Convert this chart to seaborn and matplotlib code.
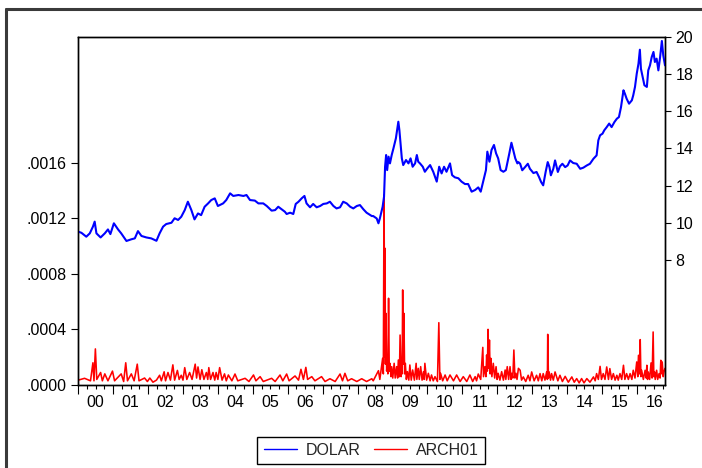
import matplotlib
matplotlib.use("Agg")
import matplotlib.pyplot as plt
import seaborn as sns
import pandas as pd
from matplotlib.lines import Line2D

# DOLAR exchange rate (right axis): time in decimal years, level
dolar_t = [
    2000.00, 2000.09, 2000.23, 2000.33, 2000.42, 2000.47, 2000.52, 2000.64, 2000.76, 2000.85, 2000.92,
    2001.02, 2001.14, 2001.23, 2001.38, 2001.52, 2001.62, 2001.71, 2001.81, 2001.95,
    2002.09, 2002.24, 2002.33, 2002.43, 2002.52, 2002.67, 2002.76, 2002.86, 2002.95,
    2003.05, 2003.14, 2003.24, 2003.33, 2003.43, 2003.52, 2003.62, 2003.72, 2003.81, 2003.91,
    2004.00, 2004.15, 2004.24, 2004.35, 2004.44, 2004.59, 2004.73, 2004.82, 2004.92,
    2005.06, 2005.16, 2005.30, 2005.40, 2005.54, 2005.64, 2005.73, 2005.83, 2005.92, 2005.97,
    2006.07, 2006.16, 2006.23, 2006.31, 2006.40, 2006.48, 2006.54, 2006.64, 2006.73, 2006.83, 2006.93,
    2007.02, 2007.12, 2007.21, 2007.31, 2007.40, 2007.50, 2007.59, 2007.69, 2007.79, 2007.88, 2007.98,
    2008.07, 2008.17, 2008.26, 2008.41, 2008.45, 2008.55, 2008.60, 2008.64, 2008.72, 2008.76, 2008.79, 2008.82, 2008.85, 2008.89, 2008.93, 2008.98,
    2009.03, 2009.10, 2009.17, 2009.20, 2009.24, 2009.27, 2009.31, 2009.39, 2009.46, 2009.52, 2009.58, 2009.65, 2009.70, 2009.74, 2009.79, 2009.87, 2009.93,
    2010.00, 2010.08, 2010.17, 2010.27, 2010.34, 2010.41, 2010.48, 2010.55, 2010.65, 2010.71, 2010.79, 2010.89, 2010.98,
    2011.08, 2011.17, 2011.27, 2011.37, 2011.46, 2011.53, 2011.61, 2011.68, 2011.72, 2011.78, 2011.84, 2011.91, 2011.97,
    2012.03, 2012.10, 2012.18, 2012.25, 2012.29, 2012.35, 2012.41, 2012.46, 2012.52, 2012.58, 2012.61, 2012.66, 2012.72, 2012.80, 2012.88, 2012.94,
    2013.04, 2013.13, 2013.20, 2013.26, 2013.32, 2013.39, 2013.45, 2013.50, 2013.54, 2013.61, 2013.66, 2013.74, 2013.80, 2013.87, 2013.95,
    2014.02, 2014.09, 2014.18, 2014.28, 2014.38, 2014.47, 2014.57, 2014.66, 2014.76, 2014.85, 2014.90, 2014.95,
    2015.02, 2015.07, 2015.14, 2015.21, 2015.28, 2015.36, 2015.43, 2015.49, 2015.55, 2015.62, 2015.66, 2015.71, 2015.78, 2015.86, 2015.90, 2015.95,
    2016.00, 2016.05, 2016.09, 2016.12, 2016.17, 2016.22, 2016.29, 2016.33, 2016.38, 2016.43, 2016.48, 2016.52, 2016.57, 2016.62, 2016.67, 2016.72, 2016.76, 2016.81,
]
dolar_v = [
    9.52, 9.46, 9.25, 9.43, 9.79, 10.06, 9.43, 9.21, 9.43, 9.64, 9.39,
    9.97, 9.64, 9.43, 9.02, 9.11, 9.16, 9.55, 9.29, 9.21,
    9.16, 9.03, 9.43, 9.79, 9.93, 10.00, 10.24, 10.15, 10.32,
    10.68, 11.13, 10.68, 10.18, 10.50, 10.41, 10.86, 11.04, 11.22, 11.31,
    10.90, 11.04, 11.22, 11.58, 11.44, 11.49, 11.44, 11.49, 11.22,
    11.19, 11.04, 11.04, 10.90, 10.65, 10.68, 10.86, 10.72, 10.59, 10.47,
    10.54, 10.47, 11.01, 11.13, 11.31, 11.44, 11.04, 10.83, 11.01, 10.83, 10.90,
    11.01, 11.04, 11.13, 10.90, 10.77, 10.83, 11.13, 11.04, 10.86, 10.77, 10.90,
    10.95, 10.72, 10.54, 10.36, 10.36, 10.23, 9.97, 10.23, 10.86, 11.40, 13.01, 13.64, 12.83, 13.55, 13.19, 13.64,
    14.00, 14.54, 15.43, 14.98, 14.09, 13.46, 13.10, 13.37, 13.19, 13.46, 13.01, 13.19, 13.64, 13.28, 13.19, 13.01, 12.74,
    12.92, 13.10, 12.74, 12.21, 13.01, 12.65, 13.01, 12.74, 13.19, 12.56, 12.44, 12.39, 12.21,
    12.08, 12.08, 11.67, 11.76, 11.90, 11.67, 12.30, 12.83, 13.82, 13.28, 13.91, 14.18, 13.73,
    13.46, 12.83, 12.74, 12.83, 13.19, 13.73, 14.30, 13.91, 13.46, 13.19, 13.26, 13.17, 12.82, 12.99, 13.17, 12.90,
    12.67, 12.73, 12.46, 12.19, 12.01, 12.73, 13.26, 12.99, 12.55, 12.90, 13.35, 12.73, 13.03, 13.17, 12.99,
    13.08, 13.35, 13.21, 13.17, 12.90, 12.96, 13.08, 13.17, 13.44, 13.62, 14.43, 14.70,
    14.79, 14.97, 15.14, 15.33, 15.14, 15.41, 15.59, 15.68, 16.22, 17.12, 16.94, 16.67, 16.40, 16.58, 16.85, 17.30,
    18.01, 18.55, 19.30, 18.28, 17.83, 17.39, 17.30, 18.19, 18.46, 18.91, 19.18, 18.64, 18.82, 18.19, 18.91, 19.77, 19.00, 18.46,
]

# ARCH01 conditional variance (left axis)
arch_t = [
    2000.00, 2000.18, 2000.35, 2000.42, 2000.45, 2000.49, 2000.53, 2000.64, 2000.69, 2000.76, 2000.85, 2000.98,
    2001.04, 2001.23, 2001.30, 2001.36, 2001.41, 2001.52, 2001.60, 2001.69, 2001.74, 2001.90, 2001.98,
    2002.05, 2002.14, 2002.24, 2002.33, 2002.38, 2002.46, 2002.50, 2002.57, 2002.64, 2002.71, 2002.76, 2002.84, 2002.89, 2002.95,
    2003.00, 2003.05, 2003.11, 2003.19, 2003.26, 2003.35, 2003.39, 2003.43, 2003.49, 2003.54, 2003.60, 2003.67, 2003.71, 2003.74, 2003.79, 2003.86, 2003.91, 2003.95,
    2004.00, 2004.05, 2004.12, 2004.19, 2004.24, 2004.30, 2004.40, 2004.49, 2004.57, 2004.78, 2004.89,
    2005.02, 2005.09, 2005.21, 2005.30, 2005.54, 2005.64, 2005.78, 2005.86, 2005.97,
    2006.04, 2006.21, 2006.31, 2006.38, 2006.45, 2006.52, 2006.57, 2006.69, 2006.78, 2006.97,
    2007.07, 2007.21, 2007.36, 2007.50, 2007.57, 2007.64, 2007.72, 2007.83, 2007.98,
    2008.12, 2008.26, 2008.41, 2008.45, 2008.60, 2008.64, 2008.72, 2008.74, 2008.76, 2008.78, 2008.79, 2008.80, 2008.815, 2008.835, 2008.855, 2008.87, 2008.89, 2008.91, 2008.93, 2008.96, 2008.98,
    2009.01, 2009.05, 2009.08, 2009.12, 2009.15, 2009.17, 2009.20, 2009.22, 2009.25, 2009.27, 2009.279, 2009.294, 2009.31, 2009.33, 2009.35, 2009.37, 2009.40, 2009.43, 2009.47, 2009.50, 2009.54, 2009.58, 2009.63, 2009.68, 2009.70, 2009.74, 2009.77, 2009.81, 2009.85, 2009.89, 2009.91, 2009.93, 2009.98,
    2010.03, 2010.08, 2010.12, 2010.17, 2010.22, 2010.29, 2010.33, 2010.36, 2010.38, 2010.44, 2010.51, 2010.57, 2010.65, 2010.75, 2010.84, 2010.94,
    2011.03, 2011.13, 2011.22, 2011.30, 2011.37, 2011.41, 2011.46, 2011.53, 2011.59, 2011.61, 2011.65, 2011.68, 2011.70, 2011.72, 2011.74, 2011.76, 2011.78, 2011.80, 2011.82, 2011.85, 2011.89, 2011.93, 2011.97,
    2012.00, 2012.03, 2012.08, 2012.13, 2012.18, 2012.23, 2012.25, 2012.29, 2012.33, 2012.37, 2012.40, 2012.42, 2012.45, 2012.48, 2012.51, 2012.54, 2012.57, 2012.61, 2012.66, 2012.70, 2012.75, 2012.82, 2012.89, 2012.94, 2012.99,
    2013.06, 2013.13, 2013.18, 2013.23, 2013.28, 2013.32, 2013.37, 2013.42, 2013.44, 2013.45, 2013.47, 2013.49, 2013.53, 2013.56, 2013.61, 2013.66, 2013.74, 2013.80, 2013.87, 2013.95,
    2014.04, 2014.14, 2014.21, 2014.28, 2014.35, 2014.42, 2014.49, 2014.57, 2014.66, 2014.76, 2014.81, 2014.85, 2014.90, 2014.95, 2014.99,
    2015.04, 2015.09, 2015.14, 2015.19, 2015.23, 2015.28, 2015.33, 2015.38, 2015.43, 2015.47, 2015.52, 2015.57, 2015.62, 2015.66, 2015.71, 2015.76, 2015.81, 2015.86, 2015.90, 2015.95,
    2016.00, 2016.03, 2016.05, 2016.08, 2016.10, 2016.12, 2016.14, 2016.19, 2016.24, 2016.27, 2016.29, 2016.31, 2016.33, 2016.37, 2016.41, 2016.44, 2016.47, 2016.49, 2016.51, 2016.53, 2016.57, 2016.60, 2016.64, 2016.67, 2016.69, 2016.72, 2016.73, 2016.76, 2016.78, 2016.81,
]
arch_v = [
    3.5e-5, 4.8e-5, 3.0e-5, 1.6e-4, 3.0e-5, 2.6e-4, 4.0e-5, 9.0e-5, 3.0e-5, 8.0e-5, 3.0e-5, 1.0e-4,
    3.0e-5, 8.0e-5, 2.5e-5, 1.6e-4, 3.0e-5, 8.0e-5, 3.0e-5, 1.5e-4, 3.0e-5, 5.0e-5, 2.5e-5,
    5.0e-5, 2.0e-5, 3.5e-5, 7.0e-5, 3.0e-5, 9.5e-5, 3.0e-5, 9.0e-5, 3.5e-5, 1.45e-4, 3.5e-5, 1.05e-4, 4.0e-5, 7.0e-5,
    3.5e-5, 1.25e-4, 4.0e-5, 9.0e-5, 4.0e-5, 1.5e-4, 5.0e-5, 1.3e-4, 4.0e-5, 1.1e-4, 4.0e-5, 9.0e-5, 4.0e-5, 1.25e-4, 4.0e-5, 9.0e-5, 3.5e-5, 9.0e-5,
    4.0e-5, 1.25e-4, 3.5e-5, 8.0e-5, 3.0e-5, 7.2e-5, 3.0e-5, 7.9e-5, 3.0e-5, 4.8e-5, 2.5e-5,
    7.2e-5, 3.0e-5, 6.0e-5, 2.5e-5, 4.8e-5, 2.5e-5, 7.2e-5, 3.0e-5, 7.9e-5,
    3.0e-5, 6.5e-5, 3.5e-5, 1.13e-4, 4.0e-5, 1.27e-4, 4.0e-5, 6.0e-5, 3.0e-5, 6.0e-5,
    2.5e-5, 4.5e-5, 2.5e-5, 7.9e-5, 3.0e-5, 8.4e-5, 3.0e-5, 4.5e-5, 2.5e-5,
    4.5e-5, 2.5e-5, 4.5e-5, 3.0e-5, 1.03e-4, 4.0e-5, 1.92e-4, 8.0e-5, 1.37e-3, 2.0e-4, 9.85e-4, 1.5e-4, 5.16e-4, 1.0e-4, 1.8e-4, 8.0e-5, 6.25e-4, 1.0e-4, 1.56e-4, 6.0e-5, 1.32e-4,
    5.0e-5, 1.56e-4, 5.0e-5, 1.32e-4, 5.0e-5, 1.8e-4, 6.0e-5, 3.6e-4, 6.0e-5, 1.8e-4, 8.0e-5, 6.85e-4, 1.5e-4, 5.16e-4, 8.0e-5, 1.56e-4, 4.0e-5, 9.6e-5, 3.5e-5, 1.44e-4, 3.5e-5, 1.08e-4, 3.5e-5, 1.56e-4, 4.0e-5, 1.2e-4, 4.0e-5, 1.32e-4, 3.5e-5, 9.6e-5, 4.0e-5, 1.56e-4, 3.5e-5,
    8.4e-5, 3.0e-5, 7.2e-5, 3.0e-5, 6.0e-5, 2.5e-5, 4.49e-4, 4.0e-5, 8.4e-5, 3.0e-5, 7.2e-5, 3.0e-5, 7.2e-5, 3.0e-5, 7.2e-5, 2.5e-5,
    6.0e-5, 2.5e-5, 7.2e-5, 2.5e-5, 6.0e-5, 3.0e-5, 7.9e-5, 4.0e-5, 2.71e-4, 6.0e-5, 1.32e-4, 6.0e-5, 2.16e-4, 1.0e-4, 4.01e-4, 1.2e-4, 3.24e-4, 8.0e-5, 1.92e-4, 6.0e-5, 1.56e-4, 5.0e-5, 1.32e-4,
    4.0e-5, 8.4e-5, 3.5e-5, 9.6e-5, 3.5e-5, 1.08e-4, 4.0e-5, 1.32e-4, 4.0e-5, 1.32e-4, 4.0e-5, 8.4e-5, 5.0e-5, 2.52e-4, 5.0e-5, 8.4e-5, 4.0e-5, 1.2e-4, 1.06e-4, 3.5e-5, 5.8e-5, 2.5e-5, 7.0e-5, 3.0e-5, 9.4e-5,
    3.0e-5, 7.0e-5, 3.0e-5, 8.2e-5, 3.0e-5, 8.2e-5, 3.5e-5, 9.4e-5, 4.0e-5, 3.65e-4, 5.0e-5, 9.4e-5, 3.5e-5, 8.2e-5, 3.5e-5, 9.4e-5, 3.0e-5, 7.0e-5, 2.5e-5, 6.2e-5,
    2.0e-5, 5.8e-5, 2.0e-5, 4.6e-5, 1.5e-5, 4.6e-5, 1.5e-5, 4.6e-5, 2.0e-5, 5.8e-5, 3.0e-5, 8.2e-5, 4.0e-5, 1.34e-4, 4.0e-5,
    8.2e-5, 4.0e-5, 1.3e-4, 4.0e-5, 1.18e-4, 4.0e-5, 8.2e-5, 3.5e-5, 7.0e-5, 3.5e-5, 8.2e-5, 4.0e-5, 1.42e-4, 4.0e-5, 8.2e-5, 4.0e-5, 8.2e-5, 4.0e-5, 1.06e-4, 5.0e-5,
    1.66e-4, 6.0e-5, 2.14e-4, 8.0e-5, 3.27e-4, 6.0e-5, 1.06e-4, 4.0e-5, 1.06e-4, 5.0e-5, 1.42e-4, 4.0e-5, 9.4e-5, 4.0e-5, 1.59e-4, 5.0e-5, 3.82e-4, 6.0e-5, 9.4e-5, 4.0e-5, 1.06e-4, 4.0e-5, 8.2e-5, 5.0e-5, 1.78e-4, 8.0e-5, 1.66e-4, 6.0e-5, 9.4e-5, 1.2e-4,
]

years = list(range(2000, 2017))
year_labels = ["00", "01", "02", "03", "04", "05", "06", "07", "08",
               "09", "10", "11", "12", "13", "14", "15", "16"]
left_ticks = [0.0, 0.0004, 0.0008, 0.0012, 0.0016]
left_labels = [".0000", ".0004", ".0008", ".0012", ".0016"]
right_ticks = [8, 10, 12, 14, 16, 18, 20]
series_names = ["DOLAR", "ARCH01"]
series_colors = ["#0000FF", "#FF0000"]

dolar = pd.DataFrame({"t": dolar_t, "v": dolar_v})
arch = pd.DataFrame({"t": arch_t, "v": arch_v})

sns.set_theme(style="white")
plt.rcParams["font.family"] = ["Liberation Sans", "DejaVu Sans"]
FS = 11.5

fig = plt.figure(figsize=(7.02, 4.68), dpi=100)
ax = fig.add_axes([0.1115, 0.1774, 0.8358, 0.7442])
ax2 = ax.twinx()

sns.lineplot(data=arch, x="t", y="v", ax=ax, color=series_colors[1],
             linewidth=1.15, estimator=None, sort=False, legend=False)
sns.lineplot(data=dolar, x="t", y="v", ax=ax2, color=series_colors[0],
             linewidth=1.5, estimator=None, sort=False, legend=False)

ax.set_xlim(2000, 2016.81)
ax.set_ylim(0, 0.00251)
ax2.set_ylim(1.28, 20)
for a in (ax, ax2):
    a.set_xlabel("")
    a.set_ylabel("")
    for s in a.spines.values():
        s.set_color("black")
        s.set_linewidth(1.0)

# left axis
ax.set_yticks(left_ticks, labels=left_labels)
ax.tick_params(axis="y", left=True, direction="out", length=5, width=0.8,
               pad=3.5, labelsize=FS, color="black", labelcolor="black")
# right axis
ax2.set_yticks(right_ticks, labels=[str(v) for v in right_ticks])
ax2.tick_params(axis="y", right=True, direction="out", length=4, width=0.8,
                pad=3.5, labelsize=FS, color="black", labelcolor="black")

# x axis: long ticks at year boundaries, short ticks at quarters
quarters = [y + q / 4 for y in years for q in (1, 2, 3) if y + q / 4 < 2016.81]
ax.set_xticks(years)
ax.set_xticks(quarters, minor=True)
ax.tick_params(axis="x", which="major", bottom=True, direction="out",
               length=6.5, width=0.8, color="black", labelbottom=False)
ax.tick_params(axis="x", which="minor", bottom=True, direction="out",
               length=3.2, width=0.8, color="black")

sec = ax.secondary_xaxis("bottom")
sec.set_xticks([y + 0.5 for y in years], labels=year_labels)
sec.tick_params(axis="x", length=0, pad=7.5, labelsize=FS, labelcolor="black")
sec.spines["bottom"].set_visible(False)

# outer frame edges
fig.add_artist(Line2D([5.5 / 702, 5.5 / 702], [0, 1 - 8.5 / 468],
                      transform=fig.transFigure, color="#3a3a3a", lw=2.2))
fig.add_artist(Line2D([5.5 / 702, 1], [1 - 8.5 / 468, 1 - 8.5 / 468],
                      transform=fig.transFigure, color="#3a3a3a", lw=2.2))

handles = [Line2D([], [], color=c, lw=1.0) for c in series_colors]
leg = fig.legend(handles, series_names, loc="center",
                 bbox_to_anchor=(0.529, 0.0374), ncol=2, frameon=True,
                 fancybox=False, shadow=False, edgecolor="black", framealpha=1,
                 fontsize=FS, handlelength=2.1, handletextpad=0.55,
                 columnspacing=0.8, borderpad=0.4)
leg.get_frame().set_linewidth(1.0)

fig.savefig("out.png", dpi=100)
